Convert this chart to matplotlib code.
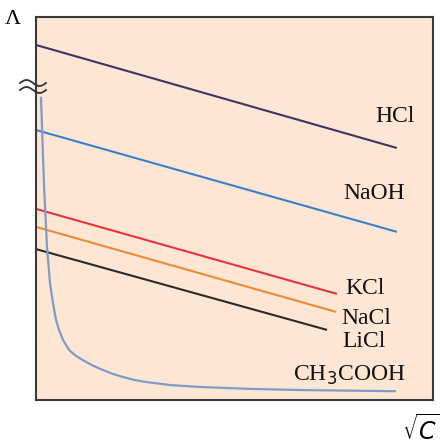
import numpy as np
import matplotlib
matplotlib.use("Agg")
import matplotlib.pyplot as plt

# ---- data (arbitrary units: x = sqrt(C) 0..100, y = Lambda 0..100) ----
electrolytes = ["HCl", "NaOH", "KCl", "NaCl", "LiCl"]
line_x0 = [0, 0, 0, 0, 0]
line_x1 = [90.9, 90.9, 75.8, 75.6, 73.3]
line_y0 = [92.7, 70.5, 49.9, 45.2, 39.4]
line_y1 = [65.8, 43.9, 27.7, 23.0, 18.3]
line_colors = ["#3f3560", "#3b7fcb", "#e8333a", "#f08b33", "#2a2a2a"]

weak_name = "CH$_3$COOH"
weak_x = [1.26, 2.02, 2.77, 3.53, 4.28, 5.04, 5.79, 6.80, 8.31, 9.82, 11.8, 14.1,
          16.9, 19.4, 21.9, 24.9, 27.7, 33.8, 41.3, 53.9, 66.5, 90.4]
weak_y = [78.9, 56.1, 39.9, 30.5, 25.3, 20.9, 18.3, 15.7, 13.1, 11.7, 10.4, 9.1,
          7.8, 6.8, 6.0, 5.2, 4.7, 3.9, 3.4, 2.9, 2.6, 2.3]
weak_color = "#7f9cc8"

label_x = [85.4, 77.3, 77.8, 76.8, 77.1]
label_y = [73.9, 53.8, 29.0, 21.4, 15.4]
weak_label_xy = (64.7, 6.5)

W, H = 440, 448
fig = plt.figure(figsize=(W / 100, H / 100), dpi=100)
ax = fig.add_axes([36 / W, 1 - 400 / H, 397 / W, 383 / H])
ax.set_facecolor("#fde6d4")
ax.set_xlim(0, 100)
ax.set_ylim(0, 100)
ax.set_xticks([])
ax.set_yticks([])
for s in ax.spines.values():
    s.set_color("#3a3a3a")
    s.set_linewidth(1.5)

serif = ["Liberation Serif", "DejaVu Serif"]
for name, x0, x1, y0, y1, c, lx, ly in zip(electrolytes, line_x0, line_x1, line_y0,
                                            line_y1, line_colors, label_x, label_y):
    ax.plot([x0, x1], [y0, y1], color=c, lw=1.5, solid_capstyle="butt")
    ax.text(lx, ly, name, family=serif, fontsize=17, ha="left", va="center",
            color="#111111")

ax.plot(weak_x, weak_y, color=weak_color, lw=1.6, solid_joinstyle="round")
ax.text(weak_label_xy[0], weak_label_xy[1], weak_name, family=serif, fontsize=17,
        ha="left", va="center", color="#111111")

# axis labels
fig.text(13 / W, 1 - 19 / H, "Λ", family=serif, fontsize=16, ha="center", va="center")
fig.text(421 / W, 1 - 430 / H, r"$\sqrt{C}$", fontsize=17, ha="center", va="center")

# axis break mark on the y axis
t = np.linspace(0, 1, 60)
for yc in (83, 90):
    px = 20 + 26 * t
    py = yc - 3.0 * np.sin(2 * np.pi * t)
    fig.add_artist(plt.Line2D(px / W, 1 - py / H, color="#333333", lw=1.3,
                              transform=fig.transFigure))

fig.savefig("out.png", dpi=100)
